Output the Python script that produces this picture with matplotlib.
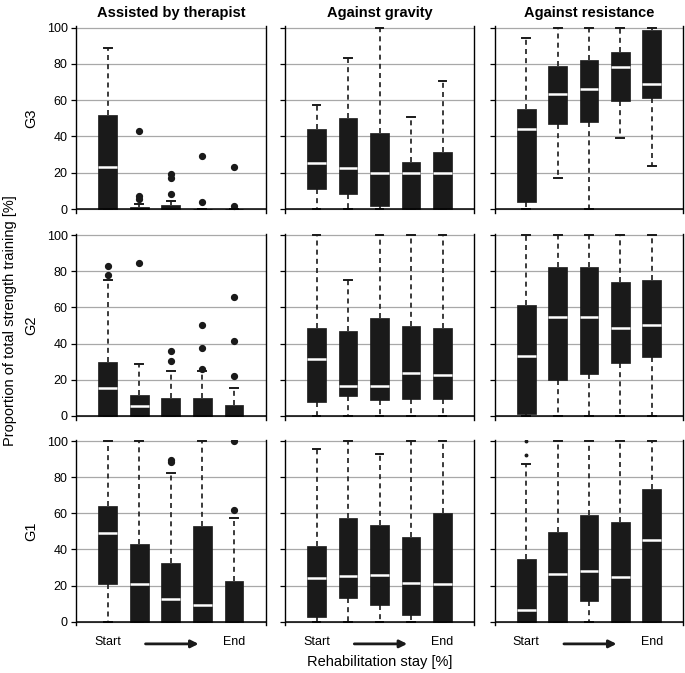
import matplotlib
matplotlib.use("Agg")
import matplotlib.pyplot as plt

plt.rcParams["font.family"] = ["Liberation Sans", "DejaVu Sans"]

# categories
columns = ["Assisted by therapist", "Against gravity", "Against resistance"]
groups = ["G3", "G2", "G1"]
stage_labels = ["Start", "End"]

# each box: (lower whisker, Q1, median, Q3, upper whisker)
g3_therapist = [(0, 0, 23, 52, 89), (0, 0, 0, 1.2, 2.7), (0, 0, 0, 2, 4.2), (0, 0, 0, 0, 0), (0, 0, 0, 0, 0)]
g3_therapist_out = [[], [43, 7, 5.5], [19.5, 17.3, 8], [29.4, 3.7], [23.3, 1.5]]
g3_gravity = [(0, 11, 25.2, 43.9, 57.4), (0, 8.3, 22.4, 50.4, 83.5), (0, 1.5, 19.7, 41.7, 100),
              (0, 0, 19.7, 25.9, 50.7), (0, 0, 19.7, 31.6, 70.8)]
g3_gravity_out = [[], [], [], [], []]
g3_resistance = [(0, 3.9, 43.9, 55.3, 94.5), (16.9, 46.7, 63.4, 79, 100), (0, 48.2, 66, 82.2, 100),
                 (39, 59.6, 78.1, 86.6, 100), (23.7, 61.4, 68.8, 98.5, 100)]
g3_resistance_out = [[], [], [], [], []]

g2_therapist = [(0, 0, 15.3, 30, 75.1), (0, 0, 5.5, 11.4, 28.7), (0, 0, 0, 10, 25),
                (0, 0, 0, 10, 24.7), (0, 0, 0, 5.9, 15.5)]
g2_therapist_out = [[82.9, 77.9], [84.7], [36.1, 30.4], [50.1, 37.6, 26], [65.6, 41.4, 22.3]]
g2_gravity = [(0, 7.6, 31.5, 48.8, 100), (0, 10.9, 16.8, 47.1, 75.1), (0, 9, 16.8, 54, 100),
              (0, 9.2, 23.6, 49.9, 100), (0, 9.4, 22.7, 48.8, 100)]
g2_gravity_out = [[], [], [], [], []]
g2_resistance = [(0, 1.1, 33.3, 61.5, 100), (0, 19.9, 54.7, 82.1, 100), (0, 23.2, 54.9, 82.1, 100),
                 (0, 29.3, 48.8, 74, 100), (0, 32.6, 50.1, 75.3, 100)]
g2_resistance_out = [[], [], [], [], []]

g1_therapist = [(0, 21, 49.3, 64.2, 100), (0, 0, 20.8, 43.2, 100), (0, 0, 12.7, 32.5, 82.3),
                (0, 0, 9.2, 52.8, 100), (0, 0, 0, 22.7, 57.6)]
g1_therapist_out = [[], [], [89.5, 88.6], [], [100, 61.6]]
g1_gravity = [(0, 2.6, 24, 41.7, 95.6), (0, 13.3, 25.5, 57.2, 100), (0, 9.4, 25.6, 53.5, 93),
              (0, 3.7, 21.6, 47, 100), (0, 0, 20.8, 60.3, 100)]
g1_gravity_out = [[], [], [], [], []]
g1_resistance = [(0, 0, 6.5, 34.7, 87.3), (0, 0, 26.4, 49.6, 100), (0, 11.3, 28, 59.2, 100),
                 (0, 0, 24.9, 55.2, 100), (0, 0, 45.4, 73.4, 100)]
g1_resistance_out = [[92.3, 100], [], [], [], []]

panels = [
    [(g3_therapist, g3_therapist_out), (g3_gravity, g3_gravity_out), (g3_resistance, g3_resistance_out)],
    [(g2_therapist, g2_therapist_out), (g2_gravity, g2_gravity_out), (g2_resistance, g2_resistance_out)],
    [(g1_therapist, g1_therapist_out), (g1_gravity, g1_gravity_out), (g1_resistance, g1_resistance_out)],
]

BOX = "#1a1a1a"
W, H = 685, 673
col_px = [(76, 265.6), (285, 474), (495, 683)]
row_px = [(27.7, 209), (235, 416), (441, 621.7)]  # pixel y of 100 and of 0
ylo, yhi = -2, 100.8

fig = plt.figure(figsize=(W / 100, H / 100), dpi=100)

for r, (y100, y0) in enumerate(row_px):
    s = (y0 - y100) / 100
    top = y100 - (yhi - 100) * s
    bot = y0 - ylo * s
    for c, (x0, x1) in enumerate(col_px):
        ax = fig.add_axes([x0 / W, 1 - bot / H, (x1 - x0) / W, (bot - top) / H])
        boxes, outs = panels[r][c]
        stats = [dict(whislo=b[0], q1=b[1], med=b[2], q3=b[3], whishi=b[4], fliers=o)
                 for b, o in zip(boxes, outs)]
        res = ax.bxp(stats, positions=range(1, 6), widths=0.6, capwidths=0.25,
                     patch_artist=True, manage_ticks=False,
                     boxprops=dict(facecolor=BOX, edgecolor=BOX, linewidth=0.5),
                     medianprops=dict(color="white", linewidth=1.8),
                     whiskerprops=dict(color=BOX, linewidth=1.2, linestyle=(0, (3, 2.5))),
                     capprops=dict(color=BOX, linewidth=1.4),
                     flierprops=dict(marker="o", markerfacecolor=BOX, markeredgecolor=BOX,
                                     markersize=4.2, linestyle="none"))
        for m in res["medians"]:
            if max(m.get_ydata()) == 0:
                m.set_visible(False)
        if r == 2 and c == 2:
            res["fliers"][0].set_markersize(1.8)

        ax.set_xlim(0, 6)
        ax.set_ylim(ylo, yhi)
        ax.set_yticks(range(0, 101, 20))
        ax.yaxis.grid(True, color="#a8a8a8", linewidth=0.9)
        ax.set_axisbelow(True)
        ax.axhline(0, color="black", linewidth=1.1, zorder=5)
        ax.spines["top"].set_visible(False)
        ax.spines["bottom"].set_visible(False)
        for sp in ("left", "right"):
            ax.spines[sp].set_linewidth(1.0)
        ax.tick_params(axis="y", direction="out", length=3.5, width=0.9, pad=2.5, labelsize=9)
        if c == 0:
            ax.set_ylabel(groups[r], fontsize=10.5)
            ax.yaxis.set_label_coords(-0.2, 0.5 + 0.8 / 103)
        else:
            ax.tick_params(axis="y", labelleft=False)

        if r == 2:
            ax.set_xticks([1, 5], stage_labels)
            ax.tick_params(axis="x", length=0, pad=7.5, labelsize=9)
            ax.annotate("", xy=(3.88, -0.1), xytext=(2.2, -0.1),
                        xycoords=("data", "axes fraction"), textcoords=("data", "axes fraction"),
                        arrowprops=dict(arrowstyle="-|>", lw=2, color=BOX, mutation_scale=11,
                                        shrinkA=0, shrinkB=0))
        else:
            ax.set_xticks([])

        if r == 0:
            fig.text((x0 + x1) / 2 / W, 1 - 13 / H, columns[c], ha="center", va="center",
                     fontsize=10.5, fontweight="bold")

fig.text(10 / W, 1 - 321 / H, "Proportion of total strength training [%]", rotation=90,
         ha="center", va="center", fontsize=10.5)
fig.text(380 / W, 1 - 662 / H, "Rehabilitation stay [%]", ha="center", va="center", fontsize=10.5)

fig.savefig("out.png", dpi=100)
